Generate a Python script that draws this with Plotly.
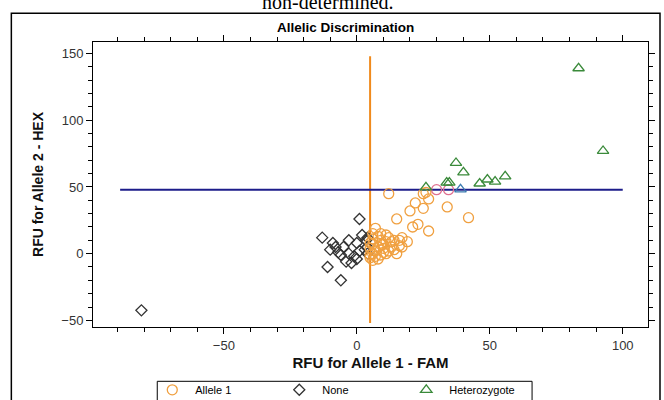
import plotly.graph_objects as go

# ---- data ----
allele1_x = [12, 25, 26, 27, 22, 25, 20, 34, 15, 23, 21, 27, 42, 7, 9, 6, 9, 11, 14, 16, 16, 17, 17, 8,
             10, 12, 13, 6, 9, 11, 6, 8, 7, 5, 6, 10, 12, 14, 8, 11, 5, 7, 10, 13, 15, 6, 9, 5, 19, 5]
allele1_y = [45, 45, 46, 41, 38, 34, 32, 35, 26, 22, 20, 17, 27, 19, 15, 11, 10, 9, 10, 10, 6, 5, 12, 5,
             4, 2, 5, 0, -1, 0, -5, -4, 2, 4, 7, 7, 12, 3, 13, 14, -3, -2, 1, 9, 0, 15, 7, 8, 9, -1]
flag_x = [30, 34.5]
flag_y = [48, 48]
none_x = [-81, -13, -11, -10, -9, -8, -7, -6, -5, -4, -3, -2, -1, 0, 0, 1, 1, 2, 3, 3.5, 4, 4, 4, -6, -3]
none_y = [-42.5, 12, -10, 3, 8, 5, 1, -20, 5, -6, 10, -7, -2, 8, -4, 26, 2, 14, 3, 10, 5, 12, 0, -1, 0]
het_x = [83.4, 92.6, 37.3, 40.1, 33.8, 34.8, 46.2, 49.1, 52, 55.8, 26, 39]
het_y = [139, 77, 68, 61, 53.3, 53.3, 52.6, 55.6, 54, 57.9, 49.7, 48.2]
fam_threshold = 5
hex_threshold = 48
fam_line_y = [-52, 148]
hex_line_x = [-89, 100]
x_range = [-99.2, 109.5]
y_range = [-55, 158.7]
x_ticks = [-50, 0, 50, 100]
y_ticks = [-50, 0, 50, 100, 150]

fig = go.Figure()

fig.add_trace(go.Scatter(x=[fam_threshold, fam_threshold], y=fam_line_y, mode="lines",
                         line=dict(color="#f08a1c", width=2), showlegend=False, hoverinfo="skip"))
fig.add_trace(go.Scatter(x=hex_line_x, y=[hex_threshold, hex_threshold], mode="lines",
                         line=dict(color="#1c1c8a", width=2), showlegend=False, hoverinfo="skip"))

fig.add_trace(go.Scatter(x=none_x, y=none_y, mode="markers", name="None",
                         marker=dict(symbol="diamond-open", size=8.5, color="#333333",
                                     line=dict(width=1.3))))
fig.add_trace(go.Scatter(x=allele1_x, y=allele1_y, mode="markers", name="Allele 1",
                         marker=dict(symbol="circle-open", size=10, color="#f0a040",
                                     line=dict(width=1.3))))
fig.add_trace(go.Scatter(x=flag_x, y=flag_y, mode="markers", showlegend=False,
                         marker=dict(symbol="circle-open", size=10, color="#e07090",
                                     line=dict(width=1.3))))
het_colors = ["#3a8a3a"] * (len(het_x) - 1) + ["#3a7ab0"]
fig.add_trace(go.Scatter(x=het_x, y=het_y, mode="markers", name="Heterozygote",
                         marker=dict(symbol="triangle-up-open", size=10, color=het_colors,
                                     line=dict(width=1.3))))

# legend order: Allele 1, None, Heterozygote
fig.data[3].legendrank = 1
fig.data[2].legendrank = 2
fig.data[5].legendrank = 3

L, R, T, B = 92.7, 16, 41.7, 73.3
W, H = 664, 400
pw, ph = W - L - R, H - T - B

def px(x):
    return (x - L) / pw

def py(y):
    return (H - B - y) / ph

axis_common = dict(showline=True, linecolor="black", linewidth=1, mirror="ticks",
                   ticks="outside", ticklen=6, tickcolor="black", showgrid=False,
                   zeroline=False, automargin=False,
                   tickfont=dict(family="Liberation Sans, Arial", size=13, color="#333333"),
                   minor=dict(dtick=10, ticks="outside", ticklen=4, tickcolor="black", showgrid=False))

fig.update_xaxes(range=x_range, tickvals=x_ticks, **axis_common,
                 title=dict(text="<b>RFU for Allele 1 - FAM</b>", standoff=5,
                            font=dict(family="Liberation Sans, Arial", size=15, color="#111111")))
fig.update_yaxes(range=y_range, tickvals=y_ticks, **axis_common,
                 title=dict(text="<b>RFU for Allele 2 - HEX</b>", standoff=14,
                            font=dict(family="Liberation Sans, Arial", size=14, color="#111111")))

fig.add_annotation(text="non-determined.", xref="paper", yref="paper", x=px(328), y=py(1.5),
                   xanchor="center", yanchor="middle", showarrow=False,
                   font=dict(family="Liberation Serif, Times New Roman", size=20, color="black"))
fig.add_annotation(text="<b>Allelic Discrimination</b>", xref="paper", yref="paper", x=px(345), y=py(27),
                   xanchor="center", yanchor="middle", showarrow=False,
                   font=dict(family="Liberation Sans, Arial", size=13.5, color="black"))

fig.add_shape(type="rect", xref="paper", yref="paper", x0=px(11), x1=px(660), y0=py(405), y1=py(13),
              line=dict(color="black", width=1.5), fillcolor="rgba(0,0,0,0)", layer="below")
# legend frame
fig.add_shape(type="rect", xref="paper", yref="paper", x0=px(157), x1=px(532), y0=py(404), y1=py(381),
              line=dict(color="black", width=1), fillcolor="rgba(0,0,0,0)", layer="below")

fig.update_layout(
    width=W, height=H,
    margin=dict(l=L, r=R, t=T, b=B, autoexpand=False),
    paper_bgcolor="white", plot_bgcolor="white",
    legend=dict(orientation="h", x=px(149), y=py(375), xanchor="left", yanchor="top",
                borderwidth=0, bgcolor="rgba(0,0,0,0)",
                entrywidth=76, entrywidthmode="pixels", itemwidth=36,
                font=dict(family="Liberation Sans, Arial", size=11, color="black"),
                traceorder="normal"),
)

fig.write_html("out.html", config={"displayModeBar": False},
               post_script="document.body.style.margin='0';document.body.style.overflow='hidden';")
